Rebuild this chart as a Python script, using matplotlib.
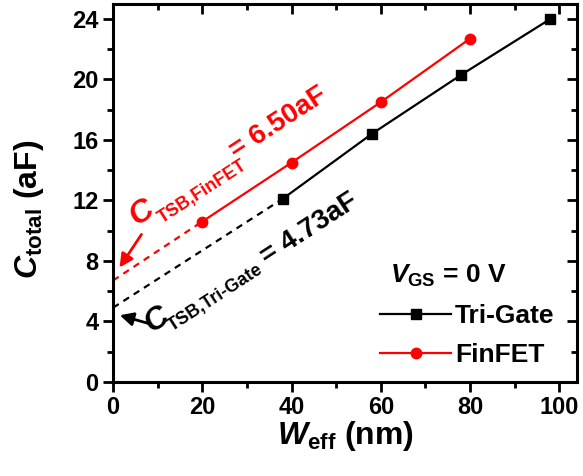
import matplotlib
matplotlib.use("Agg")
import matplotlib.pyplot as plt
from matplotlib.ticker import MultipleLocator

# data
tg_w = [38, 58, 78, 98]
tg_c = [12.1, 16.4, 20.3, 24.0]
ff_w = [20, 40, 60, 80]
ff_c = [10.6, 14.5, 18.5, 22.7]
# extrapolated intercepts at W = 0
tg_fit_w = [0, 38]
tg_fit_c = [4.9, 12.1]
ff_fit_w = [0, 20]
ff_fit_c = [6.7, 10.6]

plt.rcParams['font.family'] = ['Liberation Sans', 'DejaVu Sans']
plt.rcParams['font.weight'] = 'bold'
plt.rcParams['mathtext.fontset'] = 'custom'
plt.rcParams['mathtext.rm'] = 'Liberation Sans:bold'
plt.rcParams['mathtext.bf'] = 'Liberation Sans:bold'
plt.rcParams['mathtext.it'] = 'Liberation Sans:italic:bold'

fig = plt.figure(figsize=(5.83, 4.76), dpi=100)
ax = fig.add_axes([0.194, 0.198, 0.796, 0.794])

ax.plot(tg_fit_w, tg_fit_c, color='black', lw=1.6, ls=(0, (3, 2.5)))
ax.plot(ff_fit_w, ff_fit_c, color='red', lw=1.6, ls=(0, (3, 2.5)))
ax.plot(tg_w, tg_c, color='black', lw=1.6, marker='s', ms=7, label='Tri-Gate')
ax.plot(ff_w, ff_c, color='red', lw=1.6, marker='o', ms=7.5, label='FinFET')

ax.set_xlim(0, 104)
ax.set_ylim(0, 25)
ax.xaxis.set_major_locator(MultipleLocator(20))
ax.xaxis.set_minor_locator(MultipleLocator(10))
ax.yaxis.set_major_locator(MultipleLocator(4))
ax.yaxis.set_minor_locator(MultipleLocator(2))
ax.tick_params(which='major', direction='out', length=7, width=2, labelsize=17)
ax.tick_params(which='minor', direction='out', length=4, width=2)
for s in ax.spines.values():
    s.set_linewidth(2.2)

# mirrored ticks on top and right, pointing inwards
top = ax.secondary_xaxis('top')
top.xaxis.set_major_locator(MultipleLocator(20))
top.xaxis.set_minor_locator(MultipleLocator(10))
top.tick_params(which='both', direction='in', labeltop=False, width=2)
top.tick_params(which='major', length=7)
top.tick_params(which='minor', length=4)
right = ax.secondary_yaxis('right')
right.yaxis.set_major_locator(MultipleLocator(4))
right.yaxis.set_minor_locator(MultipleLocator(2))
right.tick_params(which='both', direction='in', labelright=False, width=2)
right.tick_params(which='major', length=7)
right.tick_params(which='minor', length=4)

ax.set_xlabel(r'$W_{\mathrm{eff}}$ (nm)', fontsize=23, fontweight='bold', labelpad=0)
ax.set_ylabel(r'$C_{\mathrm{total}}$ (aF)', fontsize=23, fontweight='bold')
ax.yaxis.set_label_coords(-0.145, 0.455)

leg = ax.legend(loc='upper left', bbox_to_anchor=(0.575, 0.205), frameon=False,
                fontsize=19, handlelength=2.7, handletextpad=0.15,
                labelspacing=0.55, borderpad=0, borderaxespad=0)
ax.text(62.0, 6.55, r'$V_{\mathrm{GS}}$ = 0 V', fontsize=19, fontweight='bold',
        ha='left', va='baseline')

# intercept annotations: big C, subscript, value
ang = 33
kw = dict(rotation=ang, rotation_mode='anchor', ha='left', va='baseline', fontweight='bold')
ax.text(5.2, 10.3, 'C', color='red', fontsize=23, style='italic', **kw)
ax.text(11.0, 10.45, 'TSB,FinFET', color='red', fontsize=13, **kw)
ax.text(27.5, 14.75, '= 6.50aF', color='red', fontsize=20, **kw)
ax.text(8.7, 3.25, 'C', color='black', fontsize=23, style='italic', **kw)
ax.text(13.2, 3.3, 'TSB,Tri-Gate', color='black', fontsize=13, **kw)
ax.text(34.6, 7.75, '= 4.73aF', color='black', fontsize=20, **kw)
ax.annotate('', xy=(1.1, 7.4), xytext=(6.7, 9.9),
            arrowprops=dict(arrowstyle='-|>', color='red', lw=2, mutation_scale=20))
ax.annotate('', xy=(0.9, 4.45), xytext=(8.6, 3.8),
            arrowprops=dict(arrowstyle='-|>', color='black', lw=2, mutation_scale=20))

fig.savefig('out.png', dpi=100)
